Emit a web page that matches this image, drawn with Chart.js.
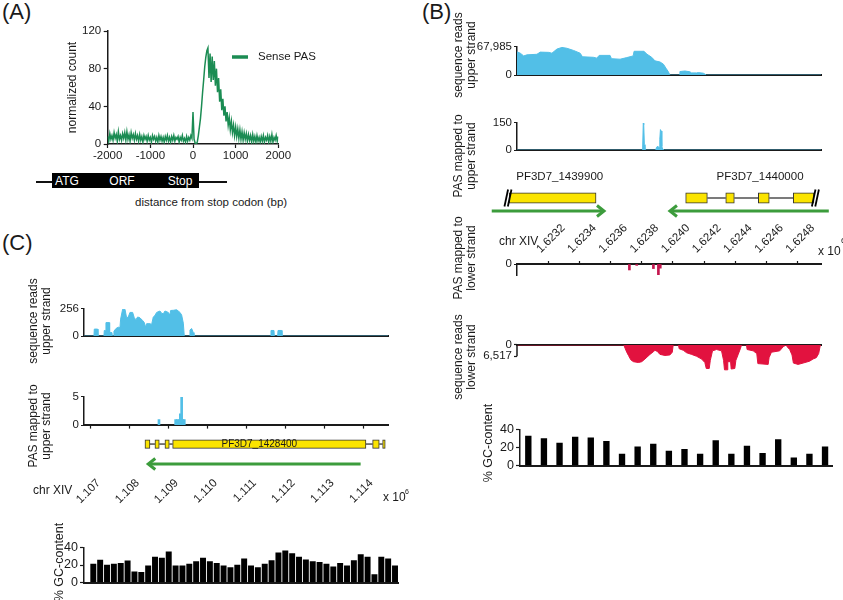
<!DOCTYPE html>
<html><head><meta charset="utf-8">
<script src="https://cdn.jsdelivr.net/npm/chart.js@4.4.1/dist/chart.umd.min.js"></script>
<style>
html,body{margin:0;padding:0;background:#fff;}
#fig{position:relative;width:843px;height:600px;overflow:hidden;font-family:'Liberation Sans',Arial,Helvetica,sans-serif;color:#1a1a1a;}
canvas{position:absolute;}
.t{position:absolute;white-space:nowrap;font-size:11.5px;line-height:13px;}
.rot{position:absolute;white-space:pre;text-align:center;font-size:12px;line-height:13px;transform:translate(-50%,-50%) rotate(-90deg);}
.panel{position:absolute;font-size:22px;line-height:22px;}
</style></head><body><div id="fig"></div>
<script>
// ================= DATA =================
// Panel A: metagene profile of sense PAS around stop codon
const aDistance = [-2000,-1975,-1950,-1925,-1900,-1875,-1850,-1825,-1800,-1775,-1750,-1725,-1700,-1675,-1650,-1625,-1600,-1575,-1550,-1525,-1500,-1475,-1450,-1425,-1400,-1375,-1350,-1325,-1300,-1275,-1250,-1225,-1200,-1175,-1150,-1125,-1100,-1075,-1050,-1025,-1000,-975,-950,-925,-900,-875,-850,-825,-800,-775,-750,-725,-700,-675,-650,-625,-600,-575,-550,-525,-500,-475,-450,-425,-400,-375,-350,-325,-300,-275,-250,-225,-200,-175,-150,-125,-100,-75,-50,-25,0,25,50,75,100,125,150,175,200,225,250,275,300,325,350,375,400,425,450,475,500,525,550,575,600,625,650,675,700,725,750,775,800,825,850,875,900,925,950,975,1000,1025,1050,1075,1100,1125,1150,1175,1200,1225,1250,1275,1300,1325,1350,1375,1400,1425,1450,1475,1500,1525,1550,1575,1600,1625,1650,1675,1700,1725,1750,1775,1800,1825,1850,1875,1900,1925,1950,1975,2000];
const aSensePAS = [8,3,11,5,9,4,12,6,10,3,13,5,9,4,11,6,12,4,13,5,10,3,12,6,10,4,11,5,9,
  3,10,4,8,2,9,5,8,3,9,4,7,2,9,5,8,3,7,2,9,4,8,3,7,2,8,4,9,3,7,2,8,4,9,3,7,5,8,2,7,4,9,3,6,2,8,3,7,
  4,9,6,34,
  5,1,0,2,9,18,27,40,55,68,82,92,99,102,
  70,96,66,93,68,88,62,80,55,70,45,58,36,48,30,40,24,34,20,28,15,24,12,20,9,18,8,16,6,15,5,13,4,12,5,11,3,10,
  4,9,2,10,3,8,2,9,3,7,2,8,3,9,2,7,4,9,2,8,3,10,2,7,4,9,3,8];

// Panel B: chr XIV 1.6230-1.62495 Mb
const bRange = [1623000, 1624950];
const bTicks = [1623200,1623400,1623600,1623800,1624000,1624200,1624400,1624600,1624800];
const bUpperReadsPos = [1623000,1623021,1623043,1623064,1623128,1623149,1623203,1623224,1623256,1623288,1623320,1623363,1623405,1623420,1623491,1623512,1623527,1623597,1623606,1623661,1623704,1623745,1623751,1623815,1623832,1623864,1623885,1623917,1623939,1623956,1623971,1623981,1624041,1624045,1624077,1624109,1624120,1624152,1624163,1624195,1624216,1624950];
const bUpperReadsVal = [56100,52800,46200,48800,50200,55400,54800,52800,62700,66700,64700,59400,52800,44200,42900,40900,47500,47500,39600,38300,42200,46200,57400,57400,50800,42900,34300,31700,26400,16500,7900,0,0,8600,9900,8000,5300,5300,6000,4600,0,0];
const bUpperPasPos = [1623000,1623802,1623806,1623810,1623813,1623817,1623821,1623826,1623890,1623895,1623904,1623911,1623916,1623920,1623925,1623929,1623934,1623944,1624950];
const bUpperPasVal = [0,0,12,150,140,30,6,0,0,16,21,14,60,113,105,20,6,0,0];
const bLowerPasPos = [1623721,1623768,1623875,1623907,1623919];
const bLowerPasVal = [4.3,1,3.3,8,3];
const bLowerReadsPos = [1623000,1623685,1623693,1623704,1623715,1623730,1623747,1623779,1623800,1623821,1623853,1623875,1623885,1623900,1623917,1623949,1623981,1623996,1624002,1624036,1624040,1624067,1624088,1624120,1624152,1624184,1624205,1624214,1624233,1624240,1624254,1624280,1624312,1624325,1624331,1624348,1624352,1624370,1624374,1624397,1624404,1624419,1624434,1624440,1624472,1624476,1624515,1624538,1624545,1624611,1624617,1624632,1624685,1624707,1624727,1624733,1624749,1624764,1624773,1624803,1624835,1624877,1624899,1624920,1624935,1624946,1624950];
const bLowerReadsVal = [0,0,1860,4190,6050,8530,9620,10090,9620,8070,5430,3880,3100,3720,5430,6050,5740,4190,0,0,2170,3100,4500,5430,6520,8070,10090,13500,13500,8840,3410,2640,3410,8840,14270,14270,9620,9620,13810,13500,8840,5430,1860,0,0,2640,3410,4970,10710,11170,7290,4190,3410,1090,0,1090,2640,5740,10400,11170,10400,9310,8070,7290,4970,0,0];
const bGC = [32.7,29.8,24.8,31.7,30.7,26.8,12.6,20.8,23.8,15.9,17.9,12.6,27.8,12.6,21.5,13.6,28.8,8.6,12.6,20.8];
const bGeneNames = ['PF3D7_1439900','PF3D7_1440000'];
const bGeneLabelPos = [1623274, 1624559];
const bExonStart = [1622950,1624082,1624339,1624548,1624772];
const bExonEnd   = [1623507,1624221,1624394,1624618,1624905];
const bIntrons = [[1624221,1624339],[1624394,1624548],[1624618,1624772]];
const bBreaks = [1622942, 1624914];
const bArrows = [[1622838,1623558],[1625000,1623981]];

// Panel C: chr XIV 1.10683-1.11464 Mb
const cRange = [1106830, 1114640];
const cTicks = [1107000,1108000,1109000,1110000,1111000,1112000,1113000,1114000];
const cUpperReadsPos = [1106830,1107086,1107094,1107180,1107188,1107342,1107351,1107385,1107394,1107479,1107488,1107548,1107556,1107582,1107599,1107651,1107710,1107753,1107770,1107822,1107882,1107924,1107967,1108010,1108079,1108121,1108164,1108207,1108267,1108335,1108378,1108412,1108438,1108524,1108566,1108609,1108652,1108695,1108780,1108823,1108866,1108909,1108994,1109037,1109054,1109123,1109208,1109251,1109294,1109337,1109380,1109405,1109534,1109551,1109594,1109636,1109654,1111622,1111631,1111708,1111716,1111802,1111811,1111905,1111913,1114640];
const cUpperReadsVal = [0,0,66,66,0,0,53,53,127,127,33,33,0,0,46,71,84,79,160,253,253,172,180,223,223,172,155,180,172,147,127,84,117,117,109,180,195,223,236,215,210,236,223,198,241,243,248,236,223,198,122,0,0,58,71,33,0,0,53,53,0,0,53,53,0,0];
const cUpperPasPos = [1108755,1109183,1109226,1109268,1109303,1109337,1109371,1109405];
const cUpperPasVal = [1,1,1,1,2,5,1,1];
const cGeneName = 'PF3D7_1428400';
const cGeneLabelPos = 1111330;
const cExonStart = [1108395,1108651,1108908,1109106,1114240,1114497];
const cExonEnd   = [1108523,1108762,1109019,1114069,1114410,1114564];
const cIntrons = [[1108523,1108651],[1108762,1108908],[1109019,1109106],[1114069,1114240],[1114410,1114497]];
const cArrows = [[1113932,1108480]];
const cGC = [21,25.7,20,21,22,24.7,12.3,11.7,19,29,28,35,19,19,21,24,28,24,22,19,17,20,27,19,17,21,25,34,36.3,33,29,26,24,23,21,18,22,19,25,32,29,9,29,27,19];

// ================= STYLE =================
const INK = '#1a1a1a', BLUE = '#52bfe7', RED = '#e2123f', PINK = '#c4174f',
      GREEN_A = '#1b8c53', GREEN_ARROW = '#3c9c3c', YELLOW = '#fbe400';
const FONT = "'Liberation Sans', Arial, Helvetica, sans-serif";
Chart.defaults.font.family = FONT;
Chart.defaults.font.size = 11.5;
Chart.defaults.color = INK;
Chart.defaults.animation = false;
Chart.defaults.plugins.legend.display = false;
Chart.defaults.plugins.tooltip.enabled = false;

const fig = document.getElementById('fig');
const isObj = o => o && typeof o === 'object' && !Array.isArray(o);
function merge(a, b) { const out = Object.assign({}, a); for (const k in b) { out[k] = (isObj(a[k]) && isObj(b[k])) ? merge(a[k], b[k]) : b[k]; } return out; }
const pairs = (xs, ys) => xs.map((x, i) => ({x, y: ys[i]}));

function makeCanvas(C) {
  const c = document.createElement('canvas');
  c.width = C[2] - C[0]; c.height = C[3] - C[1];
  c.style.left = C[0] + 'px'; c.style.top = C[1] + 'px';
  c.style.width = c.width + 'px'; c.style.height = c.height + 'px';
  fig.appendChild(c); return c;
}
// C: canvas box [l,t,r,b] ; A: plot area [L,T,R,B]
function track(C, A, xPos, config) {
  const cv = makeCanvas(C);
  const yW = A[0] - C[0];
  const xH = xPos === 'top' ? A[1] - C[1] : C[3] - A[3];
  const pad = xPos === 'top' ? {left:0, top:0, right:C[2]-A[2], bottom:C[3]-A[3]}
                             : {left:0, top:A[1]-C[1], right:C[2]-A[2], bottom:0};
  config.options = merge({responsive:false, animation:false, events:[], layout:{padding:pad, autoPadding:false}}, config.options || {});
  config.options.scales.x.afterFit = s => { s.height = xH; };
  config.options.scales.y.afterFit = s => { s.width = yW; };
  config.options.scales.x.position = xPos;
  return new Chart(cv, config);
}
function xLin(range, extra) {
  return merge({type:'linear', min:range[0], max:range[1], offset:false,
    grid:{display:false, offset:false, drawOnChartArea:false, drawTicks:false, tickLength:3, tickWidth:1.2, tickColor:INK},
    border:{display:true, color:INK, width:2},
    ticks:{display:false, autoSkip:false}}, extra || {});
}
function yLin(min, max, tickVals, extra) {
  return merge({type:'linear', position:'left', min, max,
    afterBuildTicks: s => { s.ticks = tickVals.map(v => ({value:v})); },
    grid:{display:true, drawOnChartArea:false, drawTicks:true, tickLength:3, tickWidth:1.2, tickColor:INK},
    border:{display:true, color:INK, width:1.5},
    ticks:{display:true, padding:2, color:INK, callback: v => Number(v).toLocaleString('en-US')}}, extra || {});
}
const tickSet = arr => (s => { s.ticks = arr.map(v => ({value:v})); });

// ================= PLUGINS =================
const inlineLegendPlugin = {
  id:'inlineLegend',
  afterDraw(chart, args, o) {
    const ds = chart.data.datasets[0], ctx = chart.ctx;
    ctx.save();
    ctx.strokeStyle = ds.borderColor; ctx.lineWidth = 3.5;
    ctx.beginPath(); ctx.moveTo(o.x, o.y); ctx.lineTo(o.x + o.len, o.y); ctx.stroke();
    ctx.fillStyle = INK; ctx.font = '11.5px ' + FONT; ctx.textBaseline = 'middle'; ctx.textAlign = 'left';
    ctx.fillText(ds.label, o.x + o.len + o.gap, o.y);
    ctx.restore();
  }
};
const geneTrackPlugin = {
  id:'geneTrack',
  beforeDatasetsDraw(chart, args, o) {
    const xs = chart.scales.x, y0 = chart.scales.y.getPixelForValue(0), ctx = chart.ctx;
    ctx.save();
    ctx.strokeStyle = '#222'; ctx.lineWidth = 1.2;
    (o.introns || []).forEach(([s, e]) => { ctx.beginPath(); ctx.moveTo(xs.getPixelForValue(s), y0); ctx.lineTo(xs.getPixelForValue(e), y0); ctx.stroke(); });
    ctx.strokeStyle = GREEN_ARROW; ctx.lineWidth = 3; ctx.lineJoin = 'miter';
    (o.arrows || []).forEach(([from, to]) => {
      const x1 = xs.getPixelForValue(from), x2 = xs.getPixelForValue(to), y = y0 + o.arrowDy, d = Math.sign(x2 - x1);
      ctx.beginPath(); ctx.moveTo(x1, y); ctx.lineTo(x2 - d * 1, y); ctx.stroke();
      ctx.beginPath(); ctx.moveTo(x2 - d * 7, y - 5.5); ctx.lineTo(x2, y); ctx.lineTo(x2 - d * 7, y + 5.5); ctx.stroke();
    });
    ctx.restore();
  },
  afterDatasetsDraw(chart, args, o) {
    const xs = chart.scales.x, y0 = chart.scales.y.getPixelForValue(0), ctx = chart.ctx;
    ctx.save();
    ctx.strokeStyle = '#000'; ctx.lineWidth = 1.8;
    (o.breaks || []).forEach(p => {
      const px = xs.getPixelForValue(p);
      [-1.7, 1.7].forEach(k => { ctx.beginPath(); ctx.moveTo(px + k - 1.8, y0 + 8.5); ctx.lineTo(px + k + 1.8, y0 - 8.5); ctx.stroke(); });
    });
    ctx.fillStyle = INK; ctx.font = o.labelSize + 'px ' + FONT; ctx.textAlign = 'center'; ctx.textBaseline = 'middle';
    (o.labels || []).forEach(l => ctx.fillText(l.text, xs.getPixelForValue(l.x), y0 + o.labelDy));
    ctx.restore();
  }
};
const partialAxisPlugin = {
  id:'partialAxis',
  afterDraw(chart, args, o) {
    const ys = chart.scales.y, x0 = chart.chartArea.left, ctx = chart.ctx;
    ctx.save(); ctx.strokeStyle = INK; ctx.lineWidth = 1.5;
    ctx.beginPath(); ctx.moveTo(x0, ys.getPixelForValue(o.from) - 1); ctx.lineTo(x0, ys.getPixelForValue(o.to)); ctx.stroke();
    ctx.restore();
  }
};

// ================= PANEL A =================
track([60,18,330,175],[107.7,31,278.3,144],'bottom',{
  type:'line',
  data:{datasets:[{label:'Sense PAS', data:pairs(aDistance, aSensePAS), borderColor:GREEN_A, borderWidth:1.5, pointRadius:0, tension:0, fill:false}]},
  options:{
    scales:{
      x: xLin([-2000,2000],{border:{width:1.5}, grid:{display:true, drawTicks:true, tickLength:4},
           ticks:{display:true, stepSize:1000, padding:1, callback:v => String(v)}}),
      y: {type:'linear', min:0, max:120,
          grid:{display:true, drawOnChartArea:false, drawTicks:true, tickLength:4, tickWidth:1.2, tickColor:INK},
          border:{display:true, color:INK, width:1.5},
          ticks:{stepSize:40, padding:2.5, callback:v => String(v)},
          title:{display:true, text:'normalized count', font:{size:12}, color:INK, padding:{top:5.8, bottom:0}}}
    },
    plugins:{inlineLegend:{x:172, y:39, len:16, gap:10}}
  },
  plugins:[inlineLegendPlugin]
});

// ================= PANEL B =================
track([462,38,830,84],[517,46,821,80],'bottom',{
  type:'line',
  data:{datasets:[{data:pairs(bUpperReadsPos,bUpperReadsVal), borderColor:BLUE, backgroundColor:BLUE, borderWidth:1, pointRadius:0, fill:'origin'}]},
  options:{scales:{x:xLin(bRange), y:yLin(0,67985,[0,67985])}}
});
track([462,114,830,159],[517,122,821,155],'bottom',{
  type:'line',
  data:{datasets:[{data:pairs(bUpperPasPos,bUpperPasVal), borderColor:BLUE, backgroundColor:BLUE, borderWidth:1, pointRadius:0, fill:'origin'}]},
  options:{scales:{x:xLin(bRange), y:yLin(0,150,[0,150])}}
});
track([470,165,843,222],[517,192.8,821,203.2],'bottom',{
  type:'bar',
  data:{labels:['gene'], datasets:[{data:bExonStart.map((s,i)=>({x:[s,bExonEnd[i]], y:'gene'})), backgroundColor:YELLOW, borderColor:'#333', borderWidth:1, borderSkipped:false, barThickness:10.5, clip:false}]},
  options:{indexAxis:'y',
    scales:{x:xLin(bRange,{border:{display:false}}), y:{type:'category', offset:true, grid:{display:false, drawTicks:false}, border:{display:false}, ticks:{display:false}}},
    plugins:{geneTrack:{introns:bIntrons, arrows:bArrows, arrowDy:13, breaks:bBreaks, labelSize:11.5, labelDy:-21,
      labels:bGeneNames.map((t,i)=>({text:t, x:bGeneLabelPos[i]}))}}},
  plugins:[geneTrackPlugin]
});
track([462,222,830,284],[517,264,821,279],'top',{
  type:'bar',
  data:{datasets:[{data:pairs(bLowerPasPos,bLowerPasVal), backgroundColor:PINK, barThickness:2}]},
  options:{scales:{
    x:xLin(bRange,{afterBuildTicks:tickSet(bTicks), grid:{display:true, drawTicks:true, tickLength:3},
       ticks:{display:true, minRotation:45, maxRotation:45, padding:5, font:{size:11.5}, callback:v => (v/1e6).toFixed(4)}}),
    y:yLin(0,8,[0,8],{reverse:true})}}
});
track([462,336,830,380],[517,344,821,376],'top',{
  type:'line',
  data:{datasets:[{data:pairs(bLowerReadsPos,bLowerReadsVal), borderColor:RED, backgroundColor:RED, borderWidth:1, pointRadius:0, fill:'origin'}]},
  options:{scales:{x:xLin(bRange), y:yLin(0,15000,[0,6517],{reverse:true, border:{display:false}})},
    plugins:{partialAxis:{from:0, to:6517}}},
  plugins:[partialAxisPlugin]
});
track([478,420,840,475],[520,428,832.7,469],'bottom',{
  type:'bar',
  data:{datasets:[{data:bGC.map((v,i)=>({x:i+1, y:v})), backgroundColor:'#000', barThickness:5.7}]},
  options:{scales:{x:xLin([0.468,20.49]),
    y:{type:'linear', min:0, max:40, grid:{display:true, drawOnChartArea:false, drawTicks:true, tickLength:4, tickWidth:1.2, tickColor:INK},
       border:{display:true, color:INK, width:1.5}, ticks:{stepSize:10, padding:2, font:{size:12.5}, callback:v => v % 20 === 0 ? String(v) : ''}}}}
});

// ================= PANEL C =================
track([40,300,395,345],[84,307.3,388.2,341],'bottom',{
  type:'line',
  data:{datasets:[{data:pairs(cUpperReadsPos,cUpperReadsVal), borderColor:BLUE, backgroundColor:BLUE, borderWidth:1, pointRadius:0, fill:'origin'}]},
  options:{scales:{x:xLin(cRange), y:yLin(0,256,[0,256])}}
});
track([40,388,395,434],[84,394.3,388.2,428],'bottom',{
  type:'bar',
  data:{datasets:[{data:pairs(cUpperPasPos,cUpperPasVal), backgroundColor:BLUE, barThickness:2}]},
  options:{scales:{x:xLin(cRange,{afterBuildTicks:tickSet(cTicks), grid:{display:true, drawTicks:true, tickLength:3.5}}),
    y:yLin(0,5,[0,5])}}
});
track([40,434,420,512],[84,439.8,388.2,448.3],'bottom',{
  type:'bar',
  data:{labels:['gene'], datasets:[{data:cExonStart.map((s,i)=>({x:[s,cExonEnd[i]], y:'gene'})), backgroundColor:YELLOW, borderColor:'#333', borderWidth:1, borderSkipped:false, barThickness:8.5, clip:false}]},
  options:{indexAxis:'y',
    scales:{x:xLin(cRange,{border:{display:false}, afterBuildTicks:tickSet(cTicks), grid:{display:false, drawTicks:false},
        ticks:{display:true, minRotation:45, maxRotation:45, padding:28, labelOffset:8, font:{size:11.5}, callback:v => (v/1e6).toFixed(3)}}),
      y:{type:'category', offset:true, grid:{display:false, drawTicks:false}, border:{display:false}, ticks:{display:false}}},
    plugins:{geneTrack:{introns:cIntrons, arrows:cArrows, arrowDy:20, breaks:[], labelSize:10, labelDy:0,
      labels:[{text:cGeneName, x:cGeneLabelPos}]}}},
  plugins:[geneTrackPlugin]
});
track([40,538,405,592],[84,545.7,398.3,585.7],'bottom',{
  type:'bar',
  data:{datasets:[{data:cGC.map((v,i)=>({x:i+1, y:v})), backgroundColor:'#000', barThickness:5.3}]},
  options:{scales:{x:xLin([-0.356,45.48]),
    y:{type:'linear', min:0, max:40, grid:{display:true, drawOnChartArea:false, drawTicks:true, tickLength:4, tickWidth:1.2, tickColor:INK},
       border:{display:true, color:INK, width:1.5}, ticks:{stepSize:10, padding:2, font:{size:12.5}, callback:v => v % 20 === 0 ? String(v) : ''}}}}
});

// ================= TEXT & SCHEMATIC =================
function el(cls, str, left, top, css) {
  const d = document.createElement('div'); d.className = cls; d.textContent = str;
  d.style.left = left + 'px'; d.style.top = top + 'px'; if (css) d.style.cssText += css;
  fig.appendChild(d); return d;
}
el('panel','(A)',2,1); el('panel','(B)',422,1); el('panel','(C)',2,232);
// A schematic
el('t','',36,181,'width:191px;height:1.5px;background:#111;');
el('t','',52,173,'width:147px;height:15px;background:#000;');
el('t','ATG',67,174.5,'color:#fff;font-size:12px;transform:translateX(-50%);');
el('t','ORF',122,174.5,'color:#fff;font-size:12px;transform:translateX(-50%);');
el('t','Stop',180,174.5,'color:#fff;font-size:12px;transform:translateX(-50%);');
el('t','distance from stop codon (bp)',135,195.5);
// B titles
el('rot','sequence reads\nupper strand',465,55);
el('rot','PAS mapped to\nupper strand',465,156);
el('rot','PAS mapped to\nlower strand',465,258);
el('rot','sequence reads\nlower strand',465,357);
el('rot','% GC-content',488,443,'font-size:12.5px;');
el('t','chr XIV',499,235,'font-size:12px;');
el('t','x 10',818,245,'font-size:12px;');
el('t','6',841,234,'font-size:8px;');
// C titles
el('rot','sequence reads\nupper strand',40,321);
el('rot','PAS mapped to\nupper strand',40,426);
el('rot','% GC-content',59,562,'font-size:12.5px;');
el('t','chr XIV',33,484,'font-size:12px;');
el('t','x 10',383,491,'font-size:12px;');
el('t','6',405,485,'font-size:7px;');
</script></body></html>
